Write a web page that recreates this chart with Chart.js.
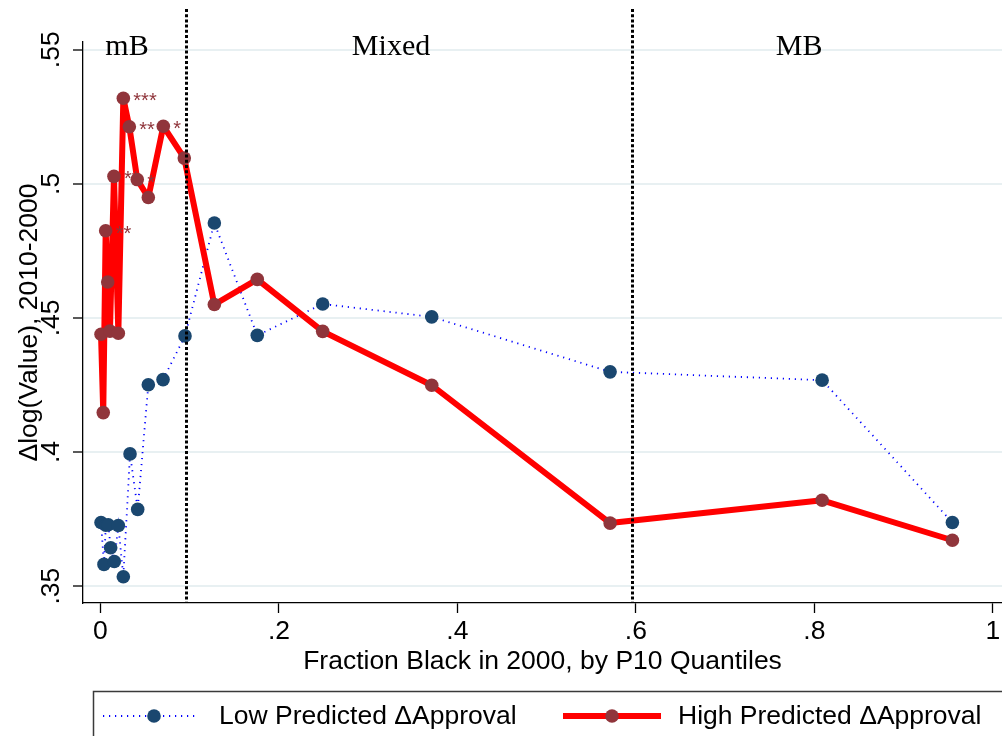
<!DOCTYPE html>
<html>
<head>
<meta charset="utf-8">
<script src="https://cdn.jsdelivr.net/npm/chart.js@4.4.1/dist/chart.umd.min.js"></script>
<style>
  html, body { margin: 0; padding: 0; background: #ffffff; }
  #wrap { width: 1002px; height: 736px; }
</style>
</head>
<body>
<div id="wrap"><canvas id="chart" width="1002" height="736"></canvas></div>
<script>
// Fraction black (P10 quantile bins) and mean Δlog(value), low predicted ΔApproval
const lowX = [0.0006, 0.0039, 0.0060, 0.0087, 0.0114, 0.0155, 0.0200, 0.0256, 0.0331, 0.0417,
              0.0536, 0.0701, 0.0947, 0.1276, 0.1757, 0.2490, 0.3712, 0.5711, 0.8087, 0.9547];
const lowY = [0.3737, 0.3581, 0.3727, 0.3729, 0.3643, 0.3592, 0.3726, 0.3535, 0.3993, 0.3786,
              0.4251, 0.4270, 0.4433, 0.4854, 0.4435, 0.4552, 0.4504, 0.4299, 0.4268, 0.3737];

// High predicted ΔApproval
const highX = [0.0006, 0.0031, 0.0058, 0.0081, 0.0106, 0.0151, 0.0200, 0.0256, 0.0323, 0.0412,
               0.0536, 0.0704, 0.0939, 0.1276, 0.1757, 0.2490, 0.3712, 0.5711, 0.8087, 0.9547];
const highY = [0.4439, 0.4147, 0.4825, 0.4634, 0.4451, 0.5028, 0.4443, 0.5319, 0.5213, 0.5016,
               0.4949, 0.5215, 0.5096, 0.4550, 0.4644, 0.4450, 0.4249, 0.3735, 0.3820, 0.3671];
// Significance stars attached to the high series
const highStars = ['', '', '**', '', '', '**', '', '***', '**', '*',
                   '', '*', '', '', '', '', '', '', '', ''];

const seriesNames = ['Low Predicted ΔApproval', 'High Predicted ΔApproval'];

const xTicks = [0, 0.2, 0.4, 0.6, 0.8, 1];
const xTickLabels = ['0', '.2', '.4', '.6', '.8', '1'];
const yTicks = [0.35, 0.4, 0.45, 0.5, 0.55];
const yTickLabels = ['.35', '.4', '.45', '.5', '.55'];

// Neighbourhood regimes split at these fractions
const regionBreaks = [0.0958, 0.596];
const regionNames = ['mB', 'Mixed', 'MB'];
const regionLabelX = [0.0297, 0.3256, 0.7829];
const regionLabelY = 0.548;
const breakLineTop = 0.5652;

const SANS = "'Liberation Sans', Arial, sans-serif";
const SERIF = "'Liberation Serif', 'DejaVu Serif', serif";
const TXT = 26.5;
const LOW_LINE = '#0000ff', LOW_MARK = '#1a476f';
const HIGH_LINE = '#ff0000', HIGH_MARK = '#90353b';

const toPoints = (xs, ys) => xs.map((x, i) => ({ x: x, y: ys[i] }));

const overlay = {
  id: 'overlay',
  afterDatasetsDraw(chart) {
    const { ctx, chartArea, scales } = chart;
    const xs = scales.x, ys = scales.y;
    ctx.save();
    // significance stars
    const meta = chart.getDatasetMeta(1);
    ctx.fillStyle = HIGH_MARK;
    ctx.font = '20px ' + SANS;
    ctx.textAlign = 'left';
    ctx.textBaseline = 'alphabetic';
    highStars.forEach((s, i) => {
      if (!s) return;
      const p = meta.data[i];
      ctx.fillText(s, p.x + 10, p.y + 9);
    });
    // regime boundaries
    ctx.strokeStyle = '#000';
    ctx.lineWidth = 3;
    ctx.setLineDash([3, 2.2]);
    regionBreaks.forEach(b => {
      const px = Math.round(xs.getPixelForValue(b)) + 0.5;
      ctx.beginPath();
      ctx.moveTo(px, ys.getPixelForValue(breakLineTop));
      ctx.lineTo(px, chartArea.bottom);
      ctx.stroke();
    });
    ctx.setLineDash([]);
    // regime names
    ctx.fillStyle = '#000';
    ctx.font = '30px ' + SERIF;
    ctx.textAlign = 'center';
    regionNames.forEach((n, i) => {
      ctx.fillText(n, xs.getPixelForValue(regionLabelX[i]), ys.getPixelForValue(regionLabelY));
    });
    ctx.restore();
  },
  afterDraw(chart) {
    const { ctx } = chart;
    ctx.save();
    // legend box
    ctx.strokeStyle = '#3a3a3a';
    ctx.lineWidth = 1.5;
    ctx.strokeRect(93.5, 691.5, 1000, 100);
    const ly = 716;
    // low sample
    ctx.strokeStyle = LOW_LINE;
    ctx.lineWidth = 1.8;
    ctx.setLineDash([1.2, 4.8]);
    ctx.beginPath(); ctx.moveTo(103, ly); ctx.lineTo(198, ly); ctx.stroke();
    ctx.setLineDash([]);
    ctx.fillStyle = LOW_MARK;
    ctx.beginPath(); ctx.arc(154, ly, 6.8, 0, Math.PI * 2); ctx.fill();
    // high sample
    ctx.strokeStyle = HIGH_LINE;
    ctx.lineWidth = 6;
    ctx.beginPath(); ctx.moveTo(563, ly); ctx.lineTo(661, ly); ctx.stroke();
    ctx.fillStyle = HIGH_MARK;
    ctx.beginPath(); ctx.arc(612, ly, 6.8, 0, Math.PI * 2); ctx.fill();
    // legend text
    ctx.fillStyle = '#000';
    ctx.font = TXT + 'px ' + SANS;
    ctx.textAlign = 'left';
    ctx.textBaseline = 'middle';
    ctx.fillText(seriesNames[0], 219, ly + 1);
    ctx.fillText(seriesNames[1], 678, ly + 1);
    ctx.restore();
  }
};

new Chart(document.getElementById('chart'), {
  type: 'scatter',
  data: {
    datasets: [
      {
        label: seriesNames[0],
        data: toPoints(lowX, lowY),
        showLine: true,
        borderColor: LOW_LINE,
        borderWidth: 1.8,
        borderDash: [1.2, 4.8],
        borderCapStyle: 'butt',
        pointRadius: 6.8,
        pointBorderWidth: 0,
        pointBackgroundColor: LOW_MARK,
        pointBorderColor: LOW_MARK,
        order: 2
      },
      {
        label: seriesNames[1],
        data: toPoints(highX, highY),
        showLine: true,
        borderColor: HIGH_LINE,
        borderWidth: 6,
        borderJoinStyle: 'round',
        borderCapStyle: 'round',
        pointRadius: 6.8,
        pointBorderWidth: 0,
        pointBackgroundColor: HIGH_MARK,
        pointBorderColor: HIGH_MARK,
        order: 1
      }
    ]
  },
  options: {
    responsive: false,
    animation: false,
    devicePixelRatio: 1,
    layout: { autoPadding: false, padding: { top: 42, right: 0, left: 0, bottom: 56 } },
    plugins: { legend: { display: false }, tooltip: { enabled: false } },
    scales: {
      x: {
        type: 'linear',
        min: -0.0196,
        max: 1.0103,
        afterBuildTicks(scale) { scale.ticks = xTicks.map(v => ({ value: v })); },
        afterFit(scale) { scale.height = 77; scale.paddingRight = 0; scale.paddingLeft = 0; },
        ticks: {
          callback: v => xTickLabels[xTicks.indexOf(v)],
          color: '#000',
          font: { family: SANS, size: TXT, lineHeight: 1 },
          padding: 5,
          maxRotation: 0,
          minRotation: 0
        },
        grid: { drawOnChartArea: false, drawTicks: true, tickLength: 10, tickColor: '#000', tickWidth: 1.3 },
        border: { display: true, color: '#000', width: 1.3 },
        title: {
          display: true,
          text: 'Fraction Black in 2000, by P10 Quantiles',
          color: '#000',
          font: { family: SANS, size: TXT, lineHeight: 1 },
          padding: { top: 0, bottom: 5 }
        }
      },
      y: {
        type: 'linear',
        min: 0.3437,
        max: 0.5529,
        afterBuildTicks(scale) { scale.ticks = yTicks.map(v => ({ value: v })); },
        afterFit(scale) { scale.width = 83; },
        ticks: {
          callback: v => yTickLabels[yTicks.findIndex(t => Math.abs(t - v) < 1e-9)],
          color: '#000',
          font: { family: SANS, size: TXT, lineHeight: 1 },
          padding: 3.3,
          minRotation: 90,
          maxRotation: 90,
          crossAlign: 'center'
        },
        grid: { color: '#e8f0f2', lineWidth: 2, drawTicks: true, tickLength: 10, tickColor: '#000', tickWidth: 1.3 },
        border: { display: true, color: '#000', width: 1.3 },
        title: {
          display: true,
          text: 'Δlog(Value), 2010-2000',
          color: '#000',
          font: { family: SANS, size: TXT, lineHeight: 1 },
          padding: { top: 16, bottom: 0 }
        }
      }
    }
  },
  plugins: [overlay]
});
</script>
</body>
</html>
